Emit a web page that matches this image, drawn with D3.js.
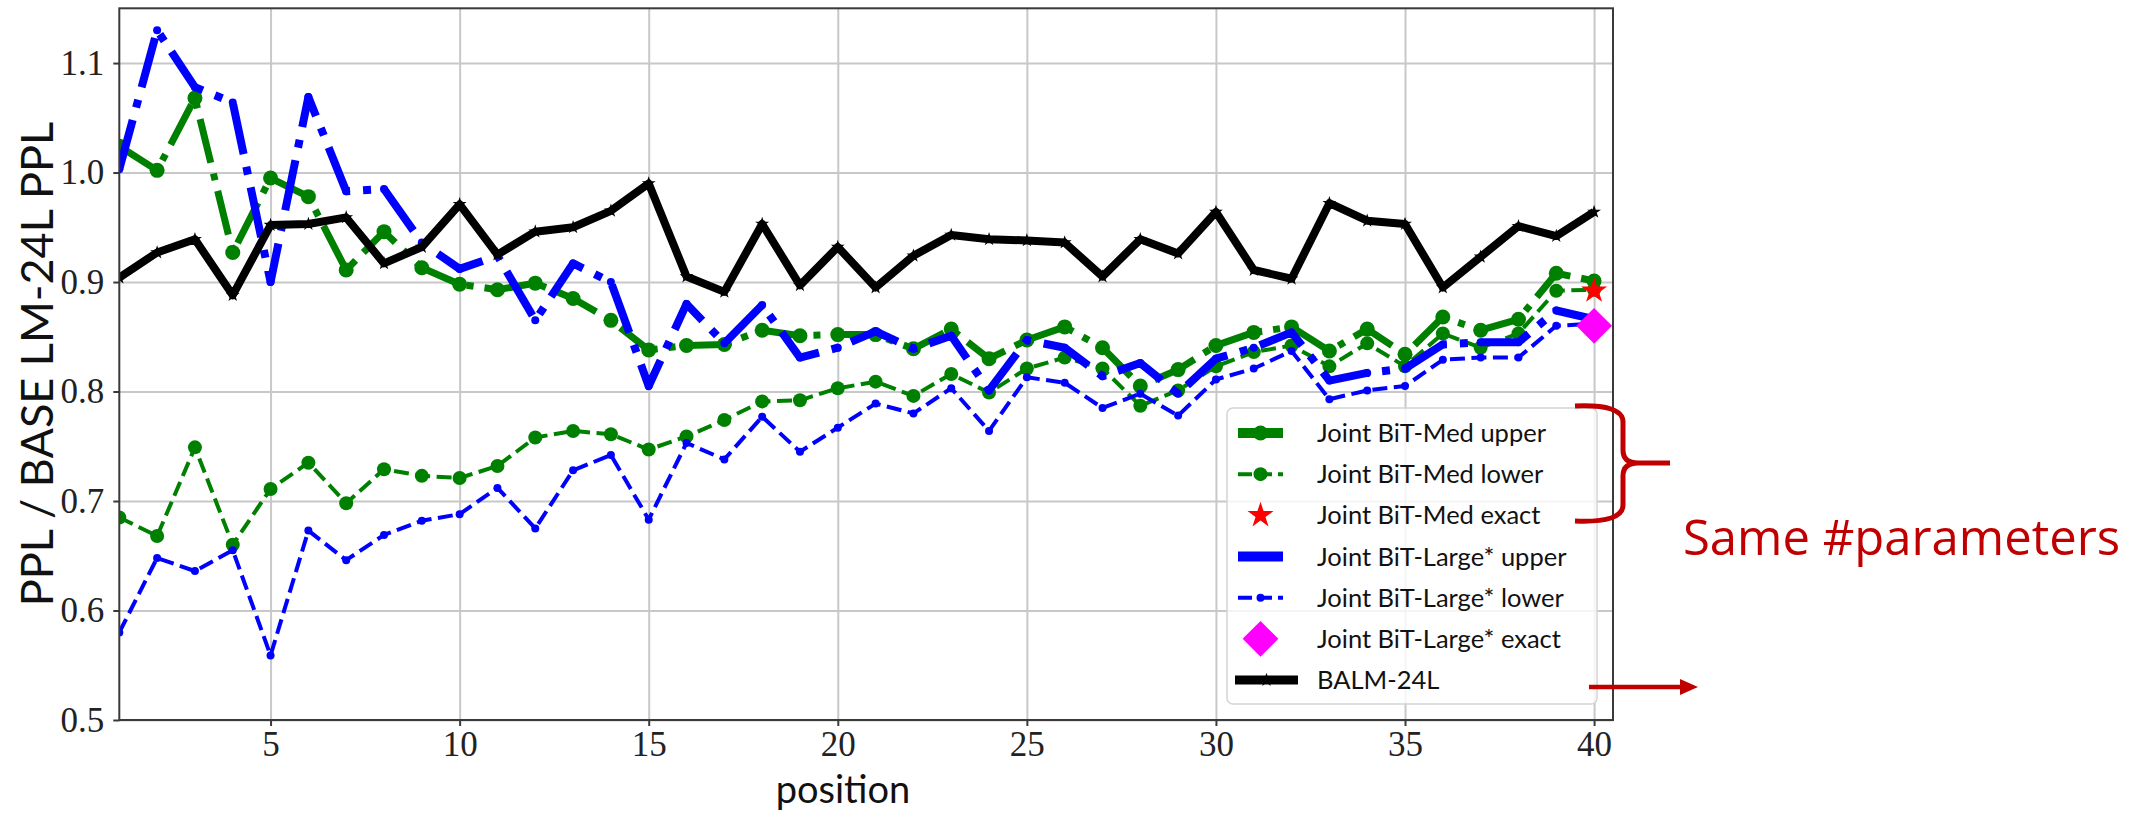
<!DOCTYPE html>
<html>
<head>
<meta charset="utf-8">
<script src="https://cdn.jsdelivr.net/npm/d3@7"></script>
<style>
  html, body { margin: 0; padding: 0; background: #fff; }
  svg { display: block; }
</style>
</head>
<body>
<svg id="chart" width="2152" height="813"></svg>
<script>
// Data (position 1..40)
const positions = [1, 2, 3, 4, 5, 6, 7, 8, 9, 10, 11, 12, 13, 14, 15, 16, 17, 18, 19, 20,
  21, 22, 23, 24, 25, 26, 27, 28, 29, 30, 31, 32, 33, 34, 35, 36, 37, 38, 39, 40];

const medUpper = [1.024, 1.002, 1.068, 0.927, 0.995, 0.978, 0.911, 0.946, 0.913, 0.898,
  0.893, 0.899, 0.885, 0.865, 0.838, 0.842, 0.843, 0.856, 0.851, 0.852,
  0.852, 0.839, 0.857, 0.830, 0.847, 0.859, 0.840, 0.805, 0.820, 0.842,
  0.854, 0.859, 0.837, 0.857, 0.834, 0.868, 0.856, 0.866, 0.908, 0.901];

const medLower = [0.685, 0.668, 0.749, 0.660, 0.711, 0.735, 0.698, 0.729, 0.723, 0.721,
  0.732, 0.758, 0.764, 0.761, 0.747, 0.759, 0.774, 0.791, 0.792, 0.803,
  0.809, 0.796, 0.816, 0.799, 0.821, 0.831, 0.821, 0.787, 0.801, 0.823,
  0.836, 0.842, 0.823, 0.844, 0.823, 0.853, 0.840, 0.853, 0.892, 0.893];

const largeUpper = [1.003, 1.130, 1.078, 1.064, 0.900, 1.069, 0.983, 0.985, 0.936, 0.912,
  0.924, 0.865, 0.917, 0.900, 0.805, 0.880, 0.844, 0.879, 0.831, 0.840,
  0.855, 0.839, 0.851, 0.801, 0.847, 0.840, 0.814, 0.826, 0.798, 0.830,
  0.840, 0.854, 0.810, 0.817, 0.821, 0.843, 0.845, 0.845, 0.874, 0.866];

const largeLower = [0.580, 0.648, 0.636, 0.655, 0.559, 0.673, 0.646, 0.669, 0.682, 0.688,
  0.712, 0.675, 0.728, 0.742, 0.683, 0.753, 0.738, 0.777, 0.745, 0.767,
  0.789, 0.780, 0.803, 0.764, 0.813, 0.808, 0.785, 0.798, 0.778, 0.811,
  0.821, 0.837, 0.793, 0.801, 0.805, 0.829, 0.831, 0.831, 0.860, 0.862];

const balm = [0.904, 0.927, 0.939, 0.888, 0.952, 0.953, 0.959, 0.917, 0.932, 0.971,
  0.925, 0.946, 0.950, 0.965, 0.990, 0.905, 0.891, 0.953, 0.897, 0.932,
  0.895, 0.924, 0.943, 0.939, 0.938, 0.936, 0.905, 0.939, 0.926, 0.964,
  0.911, 0.903, 0.972, 0.956, 0.953, 0.895, 0.923, 0.951, 0.942, 0.964];

const medExact = [{pos: 40, value: 0.892}];
const largeExact = [{pos: 40, value: 0.860}];

const xTicks = [5, 10, 15, 20, 25, 30, 35, 40];
const yTicks = [0.5, 0.6, 0.7, 0.8, 0.9, 1.0, 1.1];

const legendLabels = ['Joint BiT-Med upper', 'Joint BiT-Med lower', 'Joint BiT-Med exact',
  'Joint BiT-Large* upper', 'Joint BiT-Large* lower', 'Joint BiT-Large* exact', 'BALM-24L'];

// Line styles for each series
const styles = {
  medUpper: {color: '#008000', width: 7, dash: '45,11,7,11', marker: 'circle', r: 7.5},
  medLower: {color: '#008000', width: 4, dash: '15,6.5', marker: 'circle', r: 7},
  medExact: {color: '#ff0000', marker: 'star', size: 210},
  largeUpper: {color: '#0000ff', width: 8, dash: '51,13,8,13', marker: 'circle', r: 4},
  largeLower: {color: '#0000ff', width: 4, dash: '15,6.5', marker: 'circle', r: 4},
  largeExact: {color: '#ff00ff', marker: 'diamond', size: 640},
  balm: {color: '#000000', width: 8, dash: null, marker: 'star', size: 60}
};

const margin = {left: 119.3, right: 1613, top: 8.3, bottom: 720};
const svg = d3.select('#chart');

const x = d3.scaleLinear().domain([1, 40.5]).range([margin.left, margin.right]);
const y = d3.scaleLinear().domain([0.5, 1.15]).range([margin.bottom, margin.top]);

const serif = '"Liberation Serif", "DejaVu Serif", serif';
const sans = 'Lato, "Open Sans", sans-serif';

// Grid
svg.append('g')
  .attr('transform', `translate(0, ${margin.bottom})`)
  .call(d3.axisBottom(x).tickValues(xTicks).tickSize(-(margin.bottom - margin.top)).tickFormat(''))
  .call(g => g.select('.domain').remove())
  .selectAll('line').style('stroke', '#c8c8c8').style('stroke-width', 2);

svg.append('g')
  .attr('transform', `translate(${margin.left}, 0)`)
  .call(d3.axisLeft(y).tickValues(yTicks).tickSize(-(margin.right - margin.left)).tickFormat(''))
  .call(g => g.select('.domain').remove())
  .selectAll('line').style('stroke', '#c8c8c8').style('stroke-width', 2);

// Data lines, clipped to the axes area
svg.append('clipPath').attr('id', 'plot-clip')
  .append('rect')
  .attr('x', margin.left).attr('y', margin.top)
  .attr('width', margin.right - margin.left)
  .attr('height', margin.bottom - margin.top);

const plot = svg.append('g').attr('clip-path', 'url(#plot-clip)');

const symbolPath = (style) => {
  if (style.marker === 'star') return d3.symbol(d3.symbolStar, style.size)();
  if (style.marker === 'diamond') return d3.symbol(d3.symbolSquare, style.size)();
  return null;
};

const drawMarkers = (group, pts, style) => {
  if (style.marker === 'circle') {
    group.selectAll(null).data(pts).join('circle')
      .attr('cx', d => d[0]).attr('cy', d => d[1])
      .attr('r', style.r)
      .style('fill', style.color);
  } else {
    let rot = style.marker === 'diamond' ? ' rotate(45)' : '';
    group.selectAll(null).data(pts).join('path')
      .attr('d', symbolPath(style))
      .attr('transform', d => `translate(${d[0]}, ${d[1]})${rot}`)
      .style('fill', style.color);
  }
};

const drawSeries = (values, style) => {
  let pts = values.map((v, i) => [x(positions[i]), y(v)]);
  let g = plot.append('g');
  g.append('path')
    .attr('d', d3.line()(pts))
    .style('fill', 'none')
    .style('stroke', style.color)
    .style('stroke-width', style.width)
    .style('stroke-dasharray', style.dash)
    .style('stroke-linejoin', 'round');
  drawMarkers(g, pts, style);
};

drawSeries(medUpper, styles.medUpper);
drawSeries(medLower, styles.medLower);
drawMarkers(plot.append('g'), medExact.map(d => [x(d.pos), y(d.value)]), styles.medExact);
drawSeries(largeUpper, styles.largeUpper);
drawSeries(largeLower, styles.largeLower);
drawMarkers(plot.append('g'), largeExact.map(d => [x(d.pos), y(d.value)]), styles.largeExact);
drawSeries(balm, styles.balm);

// Axes frame and ticks
svg.append('rect')
  .attr('x', margin.left).attr('y', margin.top)
  .attr('width', margin.right - margin.left)
  .attr('height', margin.bottom - margin.top)
  .style('fill', 'none').style('stroke', '#3a3a3a').style('stroke-width', 2);

let xAxis = svg.append('g')
  .attr('transform', `translate(0, ${margin.bottom})`)
  .call(d3.axisBottom(x).tickValues(xTicks).tickSize(6).tickSizeOuter(0).tickPadding(5).tickFormat(d3.format('d')));
let yAxis = svg.append('g')
  .attr('transform', `translate(${margin.left}, 0)`)
  .call(d3.axisLeft(y).tickValues(yTicks).tickSize(6).tickSizeOuter(0).tickPadding(9).tickFormat(d3.format('.1f')));

[xAxis, yAxis].forEach(a => {
  a.select('.domain').remove();
  a.selectAll('line').style('stroke', '#3a3a3a').style('stroke-width', 2);
  a.selectAll('text')
    .style('font-family', serif)
    .style('font-size', '35px')
    .style('fill', '#222');
});

// Axis titles
svg.append('text')
  .attr('x', 843)
  .attr('y', 803)
  .attr('text-anchor', 'middle')
  .style('font-family', sans).style('font-size', '38px').style('fill', '#111')
  .text('position');

svg.append('text')
  .attr('transform', `translate(53, ${(margin.top + margin.bottom) / 2}) rotate(-90)`)
  .attr('text-anchor', 'middle')
  .style('font-family', sans).style('font-size', '45px').style('fill', '#111')
  .text('PPL / BASE LM-24L PPL');

// Legend
const legend = svg.append('g');
legend.append('rect')
  .attr('x', 1227).attr('y', 408).attr('width', 370).attr('height', 296)
  .attr('rx', 6)
  .style('fill', 'rgba(255,255,255,0.8)')
  .style('stroke', '#d4d4d4').style('stroke-width', 1.5);

const legendStyles = [styles.medUpper, styles.medLower, styles.medExact,
  styles.largeUpper, styles.largeLower, styles.largeExact, styles.balm];
const rowY = d3.scaleLinear().domain([0, 6]).range([433, 680]);

legendStyles.forEach((s, i) => {
  let cy = rowY(i);
  let isBalm = i === 6;
  let x0 = isBalm ? 1235 : 1238, x1 = isBalm ? 1298 : 1283;
  let mid = (x0 + x1) / 2;
  if (s.width) {
    legend.append('line')
      .attr('x1', x0).attr('x2', x1).attr('y1', cy).attr('y2', cy)
      .style('stroke', s.color)
      .style('stroke-width', isBalm ? 9 : (s.width > 5 ? 10 : 4))
      .style('stroke-dasharray', s.dash && s.width < 5 ? '14,6' : null);
  }
  drawMarkers(legend.append('g'), [[mid, cy]], s);
  legend.append('text')
    .attr('x', 1317).attr('y', cy + 9)
    .style('font-family', sans).style('font-size', '25.5px').style('fill', '#111')
    .text(legendLabels[i]);
});

// Annotation: bracket, arrow and note
const annoColor = '#c00000';
svg.append('path')
  .attr('d', 'M1575,406 Q1623,404 1623,422 L1623,450 Q1623,463 1638,463 L1670,463 '
    + 'M1638,463 Q1623,463 1623,476 L1623,505 Q1623,523 1575,521')
  .style('fill', 'none').style('stroke', annoColor).style('stroke-width', 5);

svg.append('line')
  .attr('x1', 1589).attr('x2', 1684).attr('y1', 687).attr('y2', 687)
  .style('stroke', annoColor).style('stroke-width', 4.5);
svg.append('path')
  .attr('d', 'M1680,679 L1698,687 L1680,695 Z')
  .style('fill', annoColor);

svg.append('text')
  .attr('x', 1683).attr('y', 555)
  .style('font-family', '"Open Sans", Lato, sans-serif').style('font-size', '49px')
  .style('fill', annoColor)
  .text('Same #parameters');
</script>
</body>
</html>
